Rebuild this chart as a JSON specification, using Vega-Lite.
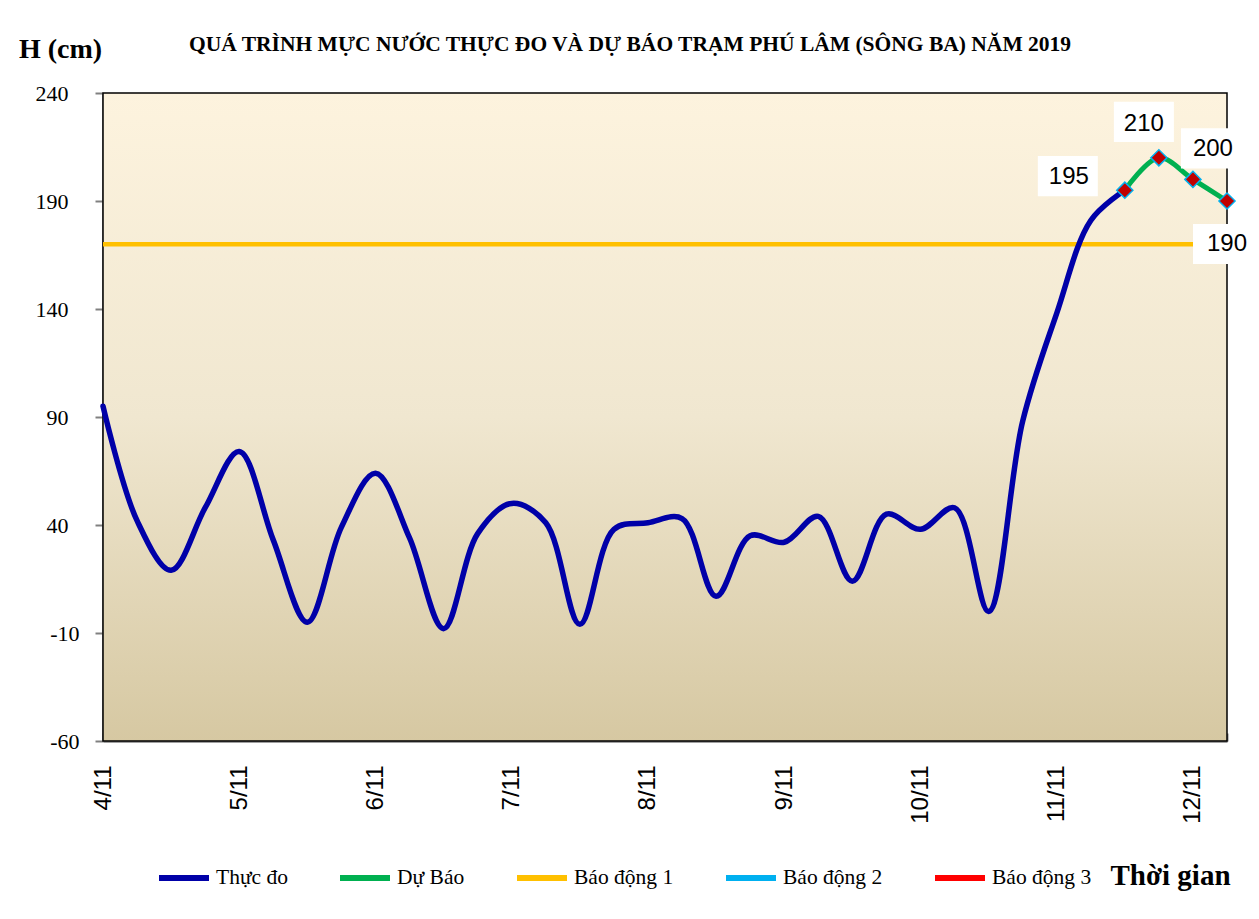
{
  "$schema": "https://vega.github.io/schema/vega-lite/v6.json",
  "autosize": {"type": "none"},
  "padding": {"left": 103, "top": 93, "right": 32, "bottom": 178},
  "width": 1124,
  "height": 648,
  "background": "#ffffff",
  "title": {
    "text": "QUÁ TRÌNH MỰC NƯỚC THỰC ĐO VÀ DỰ BÁO TRẠM  PHÚ LÂM (SÔNG BA) NĂM 2019",
    "frame": "group",
    "anchor": "middle",
    "dx": -35,
    "offset": -37,
    "baseline": "alphabetic",
    "font": "Liberation Serif",
    "fontSize": 21.5,
    "fontWeight": "bold",
    "color": "#000000"
  },
  "config": {
    "view": {"stroke": null},
    "axis": {"zindex": 1, "grid": false}
  },
  "data": {
    "values": [
      {"t": "2019-11-04T00:00", "h": 95, "series": "Thực đo"},
      {"t": "2019-11-04T06:00", "h": 42, "series": "Thực đo"},
      {"t": "2019-11-04T12:00", "h": 19, "series": "Thực đo"},
      {"t": "2019-11-04T18:00", "h": 48, "series": "Thực đo"},
      {"t": "2019-11-05T00:00", "h": 74, "series": "Thực đo"},
      {"t": "2019-11-05T06:00", "h": 33, "series": "Thực đo"},
      {"t": "2019-11-05T12:00", "h": -5, "series": "Thực đo"},
      {"t": "2019-11-05T18:00", "h": 39, "series": "Thực đo"},
      {"t": "2019-11-06T00:00", "h": 64, "series": "Thực đo"},
      {"t": "2019-11-06T06:00", "h": 34, "series": "Thực đo"},
      {"t": "2019-11-06T12:00", "h": -8, "series": "Thực đo"},
      {"t": "2019-11-06T18:00", "h": 36, "series": "Thực đo"},
      {"t": "2019-11-07T00:00", "h": 50, "series": "Thực đo"},
      {"t": "2019-11-07T06:00", "h": 41, "series": "Thực đo"},
      {"t": "2019-11-07T12:00", "h": -6, "series": "Thực đo"},
      {"t": "2019-11-07T18:00", "h": 38, "series": "Thực đo"},
      {"t": "2019-11-08T00:00", "h": 41, "series": "Thực đo"},
      {"t": "2019-11-08T06:00", "h": 43, "series": "Thực đo"},
      {"t": "2019-11-08T12:00", "h": 7, "series": "Thực đo"},
      {"t": "2019-11-08T18:00", "h": 35, "series": "Thực đo"},
      {"t": "2019-11-09T00:00", "h": 32, "series": "Thực đo"},
      {"t": "2019-11-09T06:00", "h": 44, "series": "Thực đo"},
      {"t": "2019-11-09T12:00", "h": 14, "series": "Thực đo"},
      {"t": "2019-11-09T18:00", "h": 45, "series": "Thực đo"},
      {"t": "2019-11-10T00:00", "h": 38, "series": "Thực đo"},
      {"t": "2019-11-10T06:00", "h": 48, "series": "Thực đo"},
      {"t": "2019-11-10T12:00", "h": 0, "series": "Thực đo"},
      {"t": "2019-11-10T18:00", "h": 88, "series": "Thực đo"},
      {"t": "2019-11-11T00:00", "h": 138, "series": "Thực đo"},
      {"t": "2019-11-11T06:00", "h": 181, "series": "Thực đo"},
      {"t": "2019-11-11T12:00", "h": 195, "series": "Thực đo"},
      {"t": "2019-11-11T12:00", "h": 195, "series": "Dự Báo"},
      {"t": "2019-11-11T18:00", "h": 210, "series": "Dự Báo"},
      {"t": "2019-11-12T00:00", "h": 200, "series": "Dự Báo"},
      {"t": "2019-11-12T06:00", "h": 190, "series": "Dự Báo"},
      {"t": "2019-11-04T00:00", "h": 170, "series": "Báo động 1"},
      {"t": "2019-11-12T06:00", "h": 170, "series": "Báo động 1"}
    ]
  },
  "encoding": {
    "x": {
      "field": "t",
      "type": "temporal",
      "scale": {"domain": [{"year": 2019, "month": 11, "date": 4, "hours": 0}, {"year": 2019, "month": 11, "date": 12, "hours": 6}]},
      "axis": {
        "values": [
          {"year": 2019, "month": 11, "date": 4, "hours": 0}, {"year": 2019, "month": 11, "date": 4, "hours": 6}, {"year": 2019, "month": 11, "date": 4, "hours": 12}, {"year": 2019, "month": 11, "date": 4, "hours": 18},
          {"year": 2019, "month": 11, "date": 5, "hours": 0}, {"year": 2019, "month": 11, "date": 5, "hours": 6}, {"year": 2019, "month": 11, "date": 5, "hours": 12}, {"year": 2019, "month": 11, "date": 5, "hours": 18},
          {"year": 2019, "month": 11, "date": 6, "hours": 0}, {"year": 2019, "month": 11, "date": 6, "hours": 6}, {"year": 2019, "month": 11, "date": 6, "hours": 12}, {"year": 2019, "month": 11, "date": 6, "hours": 18},
          {"year": 2019, "month": 11, "date": 7, "hours": 0}, {"year": 2019, "month": 11, "date": 7, "hours": 6}, {"year": 2019, "month": 11, "date": 7, "hours": 12}, {"year": 2019, "month": 11, "date": 7, "hours": 18},
          {"year": 2019, "month": 11, "date": 8, "hours": 0}, {"year": 2019, "month": 11, "date": 8, "hours": 6}, {"year": 2019, "month": 11, "date": 8, "hours": 12}, {"year": 2019, "month": 11, "date": 8, "hours": 18},
          {"year": 2019, "month": 11, "date": 9, "hours": 0}, {"year": 2019, "month": 11, "date": 9, "hours": 6}, {"year": 2019, "month": 11, "date": 9, "hours": 12}, {"year": 2019, "month": 11, "date": 9, "hours": 18},
          {"year": 2019, "month": 11, "date": 10, "hours": 0}, {"year": 2019, "month": 11, "date": 10, "hours": 6}, {"year": 2019, "month": 11, "date": 10, "hours": 12}, {"year": 2019, "month": 11, "date": 10, "hours": 18},
          {"year": 2019, "month": 11, "date": 11, "hours": 0}, {"year": 2019, "month": 11, "date": 11, "hours": 6}, {"year": 2019, "month": 11, "date": 11, "hours": 12}, {"year": 2019, "month": 11, "date": 11, "hours": 18},
          {"year": 2019, "month": 11, "date": 12, "hours": 0}, {"year": 2019, "month": 11, "date": 12, "hours": 6}
        ],
        "labelExpr": "hours(datum.value) === 0 ? date(datum.value) + '/11' : ''",
        "labelAngle": 270,
        "labelFont": "Liberation Sans",
        "labelFontSize": 24,
        "labelColor": "#000000",
        "labelPadding": 32,
        "labelFlush": false,
        "labelOverlap": false,
        "tickSize": -8,
        "tickColor": "#808080",
        "tickWidth": 2,
        "domainColor": "#808080",
        "domainWidth": 2.5,
        "title": "Thời gian",
        "titleFont": "Liberation Serif",
        "titleFontSize": 29,
        "titleFontWeight": "bold",
        "titleColor": "#000000",
        "titleAngle": 0,
        "titleX": 1067,
        "titleY": 134,
        "titleAlign": "center",
        "titleBaseline": "middle"
      }
    },
    "y": {
      "field": "h",
      "type": "quantitative",
      "scale": {"domain": [-60, 240], "nice": false, "zero": false},
      "axis": {
        "values": [-60, -10, 40, 90, 140, 190, 240],
        "labelExpr": "datum.value >= 0 ? format(datum.value, 'd') + '\u2002\u200b' : '-' + format(-datum.value, 'd')",
        "labelFont": "Liberation Serif",
        "labelFontSize": 22,
        "labelColor": "#000000",
        "labelPadding": 16,
        "tickSize": 8,
        "tickColor": "#808080",
        "tickWidth": 2,
        "domainColor": "#808080",
        "domainWidth": 2.5,
        "title": "H (cm)",
        "titleFont": "Liberation Serif",
        "titleFontSize": 28,
        "titleFontWeight": "bold",
        "titleColor": "#000000",
        "titleAngle": 0,
        "titleX": -43,
        "titleY": -44,
        "titleAlign": "center",
        "titleBaseline": "middle"
      }
    }
  },
  "layer": [
    {
      "data": {"values": [{}]},
      "mark": {
        "type": "rect",
        "stroke": "#000000",
        "strokeWidth": 1.5,
        "fill": {
          "gradient": "linear",
          "x1": 0, "y1": 0, "x2": 0, "y2": 1,
          "stops": [
            {"offset": 0, "color": "#FDF3DE"},
            {"offset": 0.5, "color": "#F0E7D0"},
            {"offset": 1, "color": "#D6C8A2"}
          ]
        }
      },
      "encoding": {
        "x": {"value": 0},
        "x2": {"value": "width"},
        "y": {"value": 0},
        "y2": {"value": "height"}
      }
    },
    {
      "transform": [{"filter": "datum.series === 'Báo động 1'"}],
      "mark": {"type": "line", "strokeWidth": 4.5},
      "encoding": {
        "color": {
          "field": "series",
          "type": "nominal",
          "scale": {
            "domain": ["Thực đo", "Dự Báo", "Báo động 1", "Báo động 2", "Báo động 3"],
            "range": ["#0000A8", "#00B050", "#FFC000", "#00B0F0", "#FF0000"]
          },
          "legend": {
            "title": null,
            "orient": "none",
            "legendX": 53,
            "legendY": 757,
            "direction": "horizontal",
            "columns": 5,
            "columnPadding": 40,
            "symbolType": "stroke",
            "symbolSize": 2500,
            "symbolStrokeWidth": 6,
            "labelFont": "Liberation Serif",
            "labelFontSize": 21.5,
            "labelColor": "#000000",
            "labelOffset": 4
          }
        }
      }
    },
    {
      "transform": [{"filter": "datum.series === 'Thực đo'"}],
      "mark": {"type": "line", "strokeWidth": 5.5, "interpolate": "catmull-rom", "strokeCap": "round"},
      "encoding": {"color": {"field": "series", "type": "nominal"}}
    },
    {
      "transform": [{"filter": "datum.series === 'Dự Báo'"}],
      "mark": {"type": "line", "strokeWidth": 5, "interpolate": "catmull-rom"},
      "encoding": {"color": {"field": "series", "type": "nominal"}}
    },
    {
      "transform": [{"filter": "datum.series === 'Dự Báo'"}],
      "mark": {"type": "point", "shape": "diamond", "filled": true, "fill": "#C00000", "stroke": "#00B0F0", "strokeWidth": 1.5, "size": 260, "opacity": 1}
    },
    {
      "transform": [{"filter": "datum.series === 'Dự Báo' && datum.h === 195"}],
      "layer": [
        {"mark": {"type": "point", "shape": "M-1,-0.67L1,-0.67L1,0.67L-1,0.67Z", "filled": true, "fill": "#ffffff", "stroke": null, "size": 3600, "opacity": 1, "xOffset": -57, "yOffset": -14}},
        {"mark": {"type": "text", "font": "Liberation Sans", "fontSize": 24, "color": "#000000", "align": "center", "baseline": "middle", "dx": -56, "dy": -13}, "encoding": {"text": {"field": "h"}}}
      ]
    },
    {
      "transform": [{"filter": "datum.series === 'Dự Báo' && datum.h === 210"}],
      "layer": [
        {"mark": {"type": "point", "shape": "M-1,-0.67L1,-0.67L1,0.67L-1,0.67Z", "filled": true, "fill": "#ffffff", "stroke": null, "size": 3600, "opacity": 1, "xOffset": -15, "yOffset": -36}},
        {"mark": {"type": "text", "font": "Liberation Sans", "fontSize": 24, "color": "#000000", "align": "center", "baseline": "middle", "dx": -15, "dy": -34}, "encoding": {"text": {"field": "h"}}}
      ]
    },
    {
      "transform": [{"filter": "datum.series === 'Dự Báo' && datum.h === 200"}],
      "layer": [
        {"mark": {"type": "point", "shape": "M-1,-0.67L1,-0.67L1,0.67L-1,0.67Z", "filled": true, "fill": "#ffffff", "stroke": null, "size": 3600, "opacity": 1, "xOffset": 18, "yOffset": -31}},
        {"mark": {"type": "text", "font": "Liberation Sans", "fontSize": 24, "color": "#000000", "align": "center", "baseline": "middle", "dx": 20, "dy": -30}, "encoding": {"text": {"field": "h"}}}
      ]
    },
    {
      "transform": [{"filter": "datum.series === 'Dự Báo' && datum.h === 190"}],
      "layer": [
        {"mark": {"type": "point", "shape": "M-1,-0.67L1,-0.67L1,0.67L-1,0.67Z", "filled": true, "fill": "#ffffff", "stroke": null, "size": 3600, "opacity": 1, "xOffset": -4, "yOffset": 43}},
        {"mark": {"type": "text", "font": "Liberation Sans", "fontSize": 24, "color": "#000000", "align": "center", "baseline": "middle", "dx": 0, "dy": 43}, "encoding": {"text": {"field": "h"}}}
      ]
    }
  ]
}
